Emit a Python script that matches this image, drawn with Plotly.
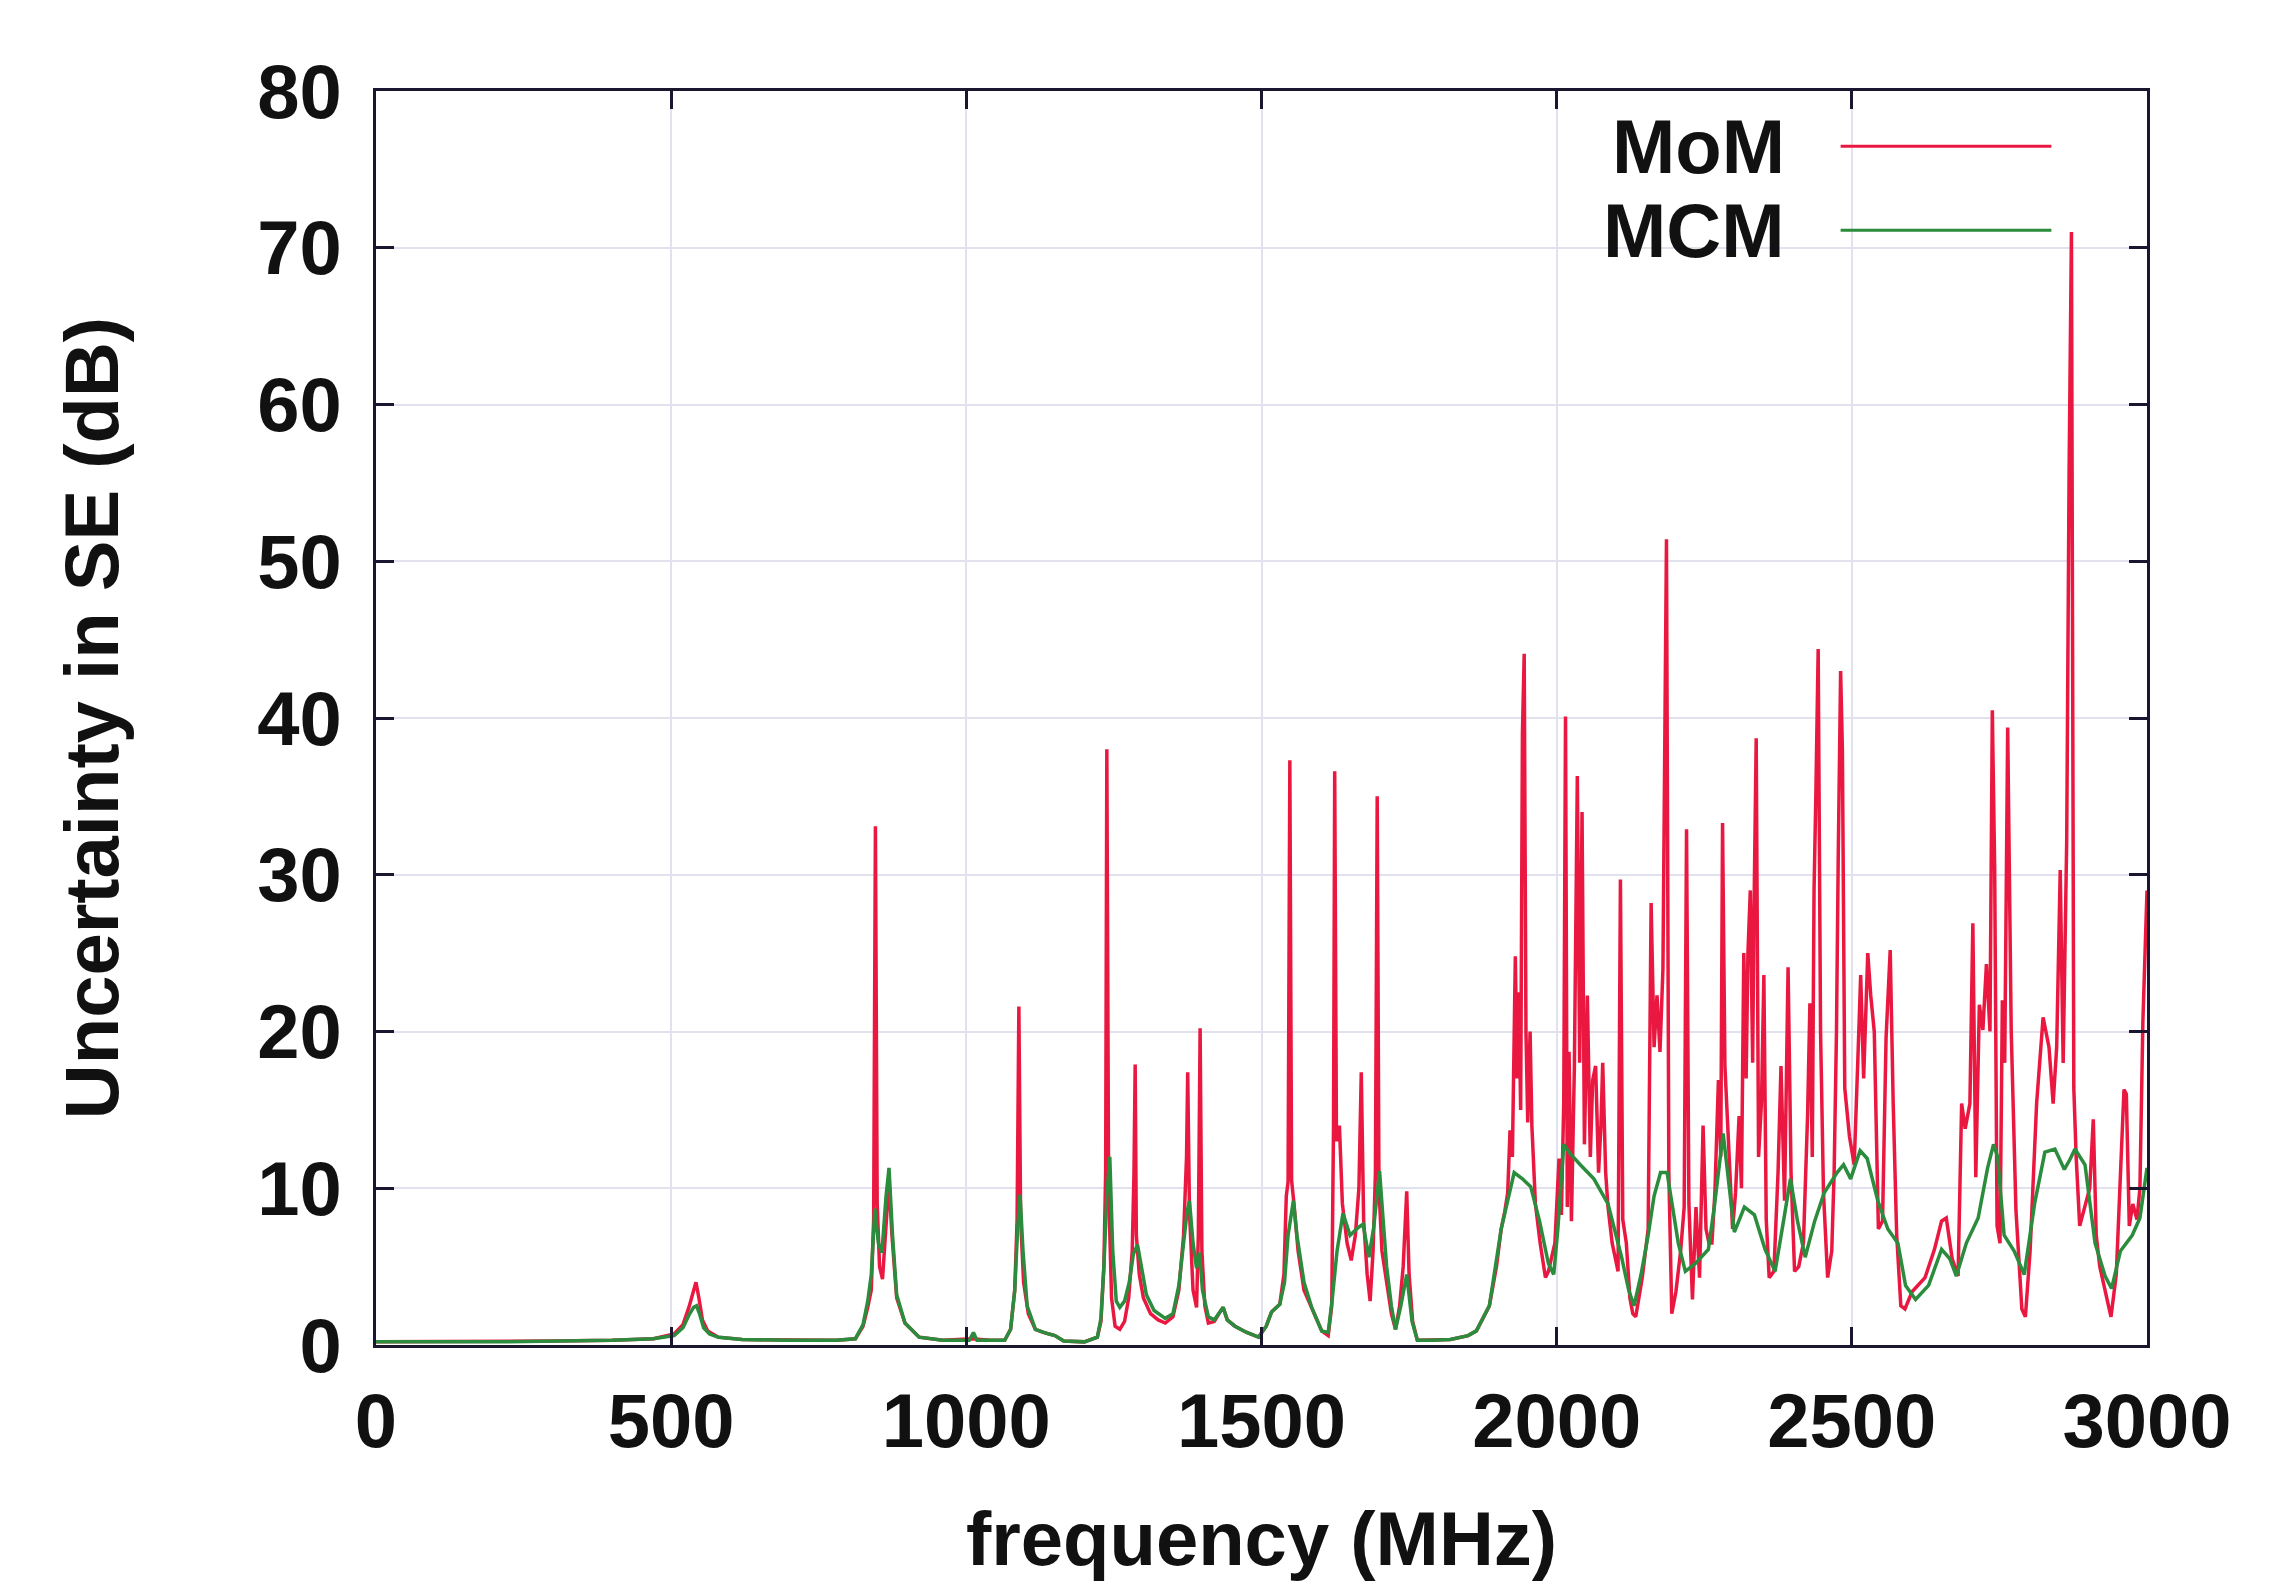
import plotly.graph_objects as go

# Uncertainty in shielding effectiveness (dB) versus frequency (MHz)
mom_freq = [
    0, 100, 200, 300, 400, 470, 505, 520, 530, 538, 542, 547, 553, 562, 580, 620, 700, 780,
    812, 825, 833, 839, 843, 846, 849, 853, 858, 864, 869, 874, 882, 896, 920, 960, 1010, 1040,
    1065, 1075, 1082, 1086, 1089, 1092, 1097, 1105, 1117, 1130, 1140, 1150, 1165, 1200,
    1222, 1228, 1233, 1236, 1238, 1241, 1246, 1252, 1260, 1268, 1275, 1281, 1284, 1286, 1288,
    1293, 1300, 1312, 1325, 1337, 1350, 1360, 1368, 1373, 1375, 1378, 1384, 1390, 1393, 1396,
    1399, 1404, 1410, 1420, 1428, 1435, 1442, 1455, 1475, 1495, 1508, 1517, 1531, 1538, 1542,
    1545, 1548, 1551, 1555, 1562, 1572, 1585, 1602, 1613, 1619, 1622, 1624, 1627, 1632, 1637,
    1645, 1652, 1659, 1665, 1669, 1673, 1679, 1684, 1689, 1693, 1696, 1699, 1704, 1712, 1720,
    1727, 1734, 1740, 1746, 1750, 1756, 1764, 1790, 1820, 1850, 1864, 1886, 1898, 1906, 1912,
    1917, 1921, 1925, 1928, 1930, 1933, 1936, 1939, 1942, 1945, 1948, 1951, 1955, 1958, 1964,
    1972, 1981, 1986, 1997, 2004, 2008, 2012, 2015, 2018, 2021, 2025, 2030, 2035, 2039, 2043,
    2047, 2052, 2057, 2061, 2066, 2071, 2075, 2078, 2083, 2087, 2094, 2099, 2104, 2108, 2112,
    2118, 2124, 2129, 2134, 2145, 2155, 2160, 2165, 2170, 2175, 2180, 2186, 2190, 2195, 2202,
    2210, 2216, 2220, 2224, 2230, 2236, 2242, 2248, 2253, 2258, 2263, 2268, 2274, 2278, 2281,
    2285, 2292, 2298, 2303, 2309, 2313, 2317, 2321, 2324, 2328, 2332, 2334, 2338, 2342, 2347,
    2351, 2355, 2360, 2368, 2375, 2380, 2386, 2392, 2397, 2403, 2410, 2418, 2425, 2429, 2433,
    2436, 2439, 2443, 2447, 2452, 2459, 2466, 2470, 2474, 2477, 2481, 2484, 2488, 2496, 2504,
    2510, 2515, 2520, 2527, 2532, 2538, 2545, 2552, 2558, 2565, 2570, 2576, 2583, 2590, 2602,
    2624, 2640, 2652, 2660, 2670, 2680, 2686, 2692, 2700, 2705, 2710, 2716, 2722, 2728, 2734,
    2738, 2742, 2746, 2751, 2755, 2759, 2764, 2770, 2778, 2788, 2794, 2802, 2813, 2824, 2834,
    2841, 2847, 2853, 2858, 2864, 2868, 2872, 2876, 2880, 2886, 2903, 2909, 2914, 2920, 2933,
    2939, 2948, 2956, 2961, 2965, 2970, 2976, 2983, 2988, 2993, 3000,
]
mom_se = [
    0.2, 0.2, 0.2, 0.25, 0.3, 0.4, 0.7, 1.3, 2.4, 3.6, 4.0, 3.0, 1.6, 0.9, 0.5, 0.35, 0.3, 0.3,
    0.4, 1.2, 2.4, 3.5, 8.0, 33.1, 9.0, 5.0, 4.2, 8.0, 10.5, 7.0, 3.0, 1.4, 0.5, 0.3, 0.4, 0.3,
    0.3, 1.0, 3.5, 8.0, 21.6, 8.0, 4.0, 2.0, 1.0, 0.8, 0.7, 0.6, 0.25, 0.2,
    0.5, 1.5, 5.0, 11.0, 38.0, 10.0, 3.0, 1.2, 1.0, 1.5, 3.0, 6.0, 11.0, 17.9, 7.0,
    4.5, 3.0, 2.0, 1.6, 1.4, 1.8, 3.5, 7.0, 12.0, 17.4, 8.5, 3.5, 2.4, 7.0, 20.2,
    6.0, 2.5, 1.4, 1.5, 2.0, 2.4, 1.6, 1.2, 0.8, 0.5, 1.2, 2.1, 2.6, 4.5, 9.5,
    10.4, 37.3, 10.5, 9.0, 6.0, 3.5, 2.4, 0.9, 0.6, 2.5, 14.0, 36.6, 13.0, 14.0, 9.0,
    6.5, 5.4, 7.0, 10.0, 17.4, 8.0, 4.5, 2.8, 6.0, 11.0, 35.0, 10.0, 6.0, 4.0, 2.0,
    1.0, 2.5, 5.0, 9.8, 4.5, 1.5, 0.3, 0.3, 0.35, 0.6, 0.9, 2.5, 5.0, 7.4, 8.5,
    9.7, 13.7, 12.0, 18.2, 24.8, 17.0, 22.5, 15.0, 39.0, 44.1, 20.0, 14.2, 20.0, 14.0, 9.0,
    6.5, 4.3, 4.7, 6.5, 11.9, 8.3, 15.5, 40.1, 8.8, 18.7, 7.9, 17.8, 36.3, 18.0, 34.0,
    12.8, 22.3, 12.0, 16.9, 17.8, 11.0, 14.0, 18.0, 11.0, 8.8, 6.5, 5.6, 4.7, 29.7, 8.0,
    6.5, 3.0, 2.0, 1.8, 4.3, 7.4, 28.2, 19.0, 22.3, 18.7, 24.0, 51.4, 11.0, 2.0, 3.4,
    6.0, 8.8, 32.9, 9.0, 2.9, 8.8, 4.3, 14.0, 7.4, 6.5, 6.5, 9.7, 16.9, 12.0, 33.3,
    17.8, 12.0, 7.4, 9.7, 14.6, 10.0, 25.0, 17.0, 25.0, 29.0, 18.0, 26.8, 38.7, 12.0, 15.5,
    23.6, 8.0, 4.3, 4.7, 11.0, 17.8, 9.2, 24.1, 11.0, 4.7, 5.0, 6.5, 14.6, 21.8, 12.0,
    29.0, 35.0, 44.4, 20.0, 9.7, 4.3, 6.0, 11.0, 20.0, 31.3, 43.0, 38.0, 16.4, 13.3, 11.5,
    18.0, 23.6, 17.0, 25.0, 22.3, 20.0, 7.4, 7.9, 19.6, 25.2, 15.5, 7.0, 2.5, 2.3, 3.4,
    4.3, 6.1, 7.9, 8.1, 5.5, 4.4, 15.4, 13.8, 15.4, 26.9, 10.7, 21.7, 20.1, 24.3, 20.0,
    40.5, 30.3, 7.6, 6.5, 22.0, 18.0, 39.4, 20.0, 8.6, 2.3, 1.8, 6.0, 15.4, 20.9, 19.0,
    15.4, 19.0, 30.3, 18.0, 32.2, 55.6, 71.0, 16.4, 12.0, 7.6, 10.0, 14.4, 7.0, 5.0, 2.9,
    1.8, 4.5, 12.0, 16.3, 16.0, 7.6, 9.0, 8.0, 10.0, 20.6, 29.0,
]

mcm_freq = [
    0, 200, 400, 470, 505, 520, 530, 538, 543, 548, 555, 565, 580, 620, 700, 780,
    812, 825, 833, 839, 845, 851, 857, 864, 869, 875, 882, 896, 920, 960, 1005, 1012, 1018, 1040,
    1065, 1075, 1082, 1087, 1091, 1096, 1103, 1117, 1130, 1140, 1150, 1165, 1200,
    1222, 1228, 1233, 1238, 1243, 1248, 1254, 1260, 1268, 1276, 1283, 1290, 1297, 1305, 1318,
    1337, 1350, 1360, 1368, 1374, 1378, 1384, 1390, 1395, 1400, 1410, 1420, 1428, 1435, 1442,
    1455, 1475, 1495, 1508, 1517, 1531, 1539, 1545, 1554, 1560, 1572, 1585, 1602, 1613, 1620,
    1628, 1638, 1650, 1664, 1672, 1682, 1690, 1700, 1706, 1712, 1720, 1727, 1736, 1746, 1755,
    1764, 1790, 1820, 1850, 1864, 1886, 1906, 1917, 1928, 1942, 1956, 1971, 1986, 1995, 2002,
    2012, 2023, 2040, 2063, 2087, 2110, 2122, 2131, 2143, 2155, 2165, 2176, 2187, 2197, 2206,
    2218, 2235, 2257, 2267, 2282, 2294, 2301, 2318, 2335, 2353, 2370, 2386, 2396, 2408, 2421,
    2437, 2453, 2475, 2486, 2498, 2514, 2526, 2544, 2561, 2578, 2591, 2608, 2630, 2652, 2666,
    2677, 2694, 2714, 2730, 2740, 2747, 2758, 2775, 2792, 2810, 2827, 2844, 2860, 2869, 2878,
    2895, 2912, 2929, 2940, 2955, 2975, 2988, 3000,
]
mcm_se = [
    0.2, 0.2, 0.3, 0.4, 0.6, 1.1, 1.9, 2.4, 2.5, 2.0, 1.1, 0.7, 0.5, 0.35, 0.3, 0.3,
    0.4, 1.3, 2.8, 4.5, 8.7, 6.5, 5.9, 9.5, 11.3, 7.0, 3.2, 1.4, 0.5, 0.3, 0.3, 0.8, 0.3, 0.3,
    0.3, 1.0, 3.5, 7.5, 9.6, 6.0, 2.5, 1.0, 0.8, 0.7, 0.6, 0.25, 0.2,
    0.5, 1.7, 5.0, 9.5, 12.0, 6.0, 2.8, 2.4, 2.8, 4.0, 5.8, 6.4, 4.8, 3.2, 2.2,
    1.7, 2.0, 3.8, 6.5, 8.5, 9.2, 6.5, 4.9, 5.9, 3.5, 1.8, 1.6, 2.0, 2.4, 1.6,
    1.2, 0.8, 0.5, 1.2, 2.1, 2.6, 4.0, 7.0, 9.2, 7.0, 4.0, 2.4, 0.9, 0.8, 3.0,
    6.0, 8.4, 7.0, 7.5, 7.7, 5.6, 7.5, 11.1, 8.0, 5.0, 2.5, 1.0, 2.5, 4.5, 1.5,
    0.3, 0.3, 0.35, 0.6, 0.9, 2.5, 7.4, 9.2, 11.0, 10.6, 10.1, 7.9, 5.2, 4.5, 7.4,
    12.8, 12.2, 11.5, 10.6, 9.0, 5.6, 3.5, 2.5, 4.5, 7.0, 9.5, 11.0, 11.0, 8.5, 6.5,
    4.7, 5.2, 6.1, 8.8, 13.5, 9.7, 7.2, 8.8, 8.3, 6.1, 4.7, 8.3, 10.6, 7.9, 5.6,
    7.9, 9.7, 11.0, 11.5, 10.6, 12.4, 11.9, 9.2, 7.4, 6.5, 3.8, 2.9, 3.8, 6.1, 5.5,
    4.4, 6.5, 8.1, 11.3, 12.8, 12.0, 7.0, 6.0, 4.5, 9.1, 12.3, 12.5, 11.2, 11.8, 12.5,
    11.5, 6.5, 4.4, 3.6, 6.0, 7.0, 8.1, 11.3,
]

x_ticks = [0, 500, 1000, 1500, 2000, 2500, 3000]
y_ticks = [0, 10, 20, 30, 40, 50, 60, 70, 80]

series_names = ["MoM", "MCM"]
series_colors = ["#ea1840", "#2a8c3c"]

FONT = "Liberation Sans, Arial, Helvetica, sans-serif"
TEXT = dict(family=FONT, size=76, color="#111111", weight="bold")

fig = go.Figure()
fig.add_trace(go.Scatter(x=mom_freq, y=mom_se, mode="lines", name=series_names[0],
                         line=dict(color=series_colors[0], width=3.5), showlegend=False))
fig.add_trace(go.Scatter(x=mcm_freq, y=mcm_se, mode="lines", name=series_names[1],
                         line=dict(color=series_colors[1], width=3.5), showlegend=False))

axis_common = dict(
    showline=True, linecolor="#1a1630", linewidth=3, mirror="ticks",
    ticks="inside", ticklen=18, tickwidth=3, tickcolor="#1a1630",
    showgrid=True, gridcolor="#e2e2ee", gridwidth=1.5, zeroline=False,
    tickfont=TEXT,
)

fig.update_xaxes(range=[0, 3000], tickvals=x_ticks, ticktext=[str(v) for v in x_ticks],
                 title=dict(text="frequency (MHz)", font=TEXT, standoff=50),
                 ticklabelstandoff=8, **axis_common)
fig.update_yaxes(range=[0, 80], tickvals=y_ticks, ticktext=[str(v) for v in y_ticks],
                 title=dict(text="Uncertainty in SE (dB)", font=TEXT, standoff=114),
                 ticklabelstandoff=16, **axis_common)

# key in the upper right corner: label on the left, line sample on the right
key_rows = [0.956, 0.889]
for name, color, ky in zip(series_names, series_colors, key_rows):
    fig.add_annotation(x=0.797, y=ky, xref="paper", yref="paper", text=name, showarrow=False,
                       xanchor="right", yanchor="middle", font=TEXT)
    fig.add_shape(type="line", xref="paper", yref="paper", x0=0.827, x1=0.946, y0=ky, y1=ky,
                  line=dict(color=color, width=3))

fig.update_layout(
    width=2295, height=1594,
    margin=dict(l=376, r=148, t=91, b=249),
    paper_bgcolor="white", plot_bgcolor="white",
)

fig.write_html("out.html")
